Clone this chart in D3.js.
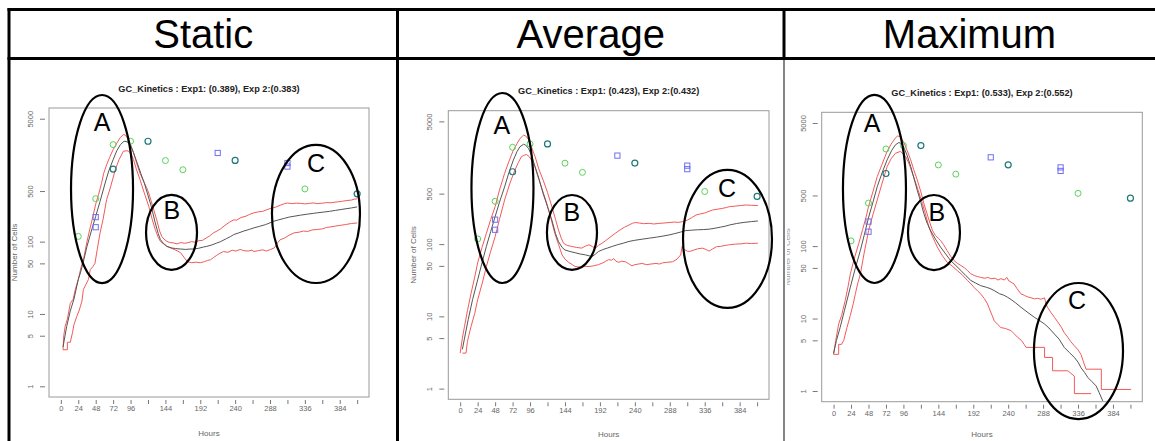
<!DOCTYPE html>
<html>
<head>
<meta charset="utf-8">
<script src="https://cdn.jsdelivr.net/npm/d3@7"></script>
<style>
  html, body { margin: 0; padding: 0; background: #fff; }
  svg { display: block; }
  text { font-family: "Liberation Sans", Arial, sans-serif; }
</style>
</head>
<body>
<svg id="fig" width="1155" height="441"></svg>
<script>
// ---- Column headings ----
const panelNames = ["Static", "Average", "Maximum"];
const panelTitles = [
  "GC_Kinetics : Exp1: (0.389), Exp 2:(0.383)",
  "GC_Kinetics : Exp1: (0.423), Exp 2:(0.432)",
  "GC_Kinetics : Exp1: (0.533), Exp 2:(0.552)"
];

// ---- Axis ticks ----
const xTickValues = [0, 24, 48, 72, 96, 120, 144, 168, 192, 216, 240, 264, 288, 312, 336, 360, 384, 408];
const xTickLabels = [0, 24, 48, 72, 96, 144, 192, 240, 288, 336, 384];
const yTickValues = [1, 5, 10, 50, 100, 500, 5000];
const xLimits = [0, 408];
const yLimits = [1, 5000];

// ---- Measured cell counts (hours, cells) ----
const exp1Points = [[24, 118], [48, 392], [72, 2190], [96, 2440], [144, 1320], [168, 985], [336, 535]];
const exp2Points = [[48, 218], [48, 158], [216, 1680], [312, 1220], [312, 1090]];
const bothPoints = [[72, 1005], [120, 2440], [240, 1325], [408, 458]];

// ---- Simulated envelopes: Static ----
const staticUpper = [[3,3.2],[4,5],[6,6.8],[9,8.5],[13,14],[17,16],[20,22],[24,30],[28,45],[31,56],[36,100],[40,150],[44,220],[48,330],[52,450],[56,640],[59,880],[63,1150],[67,1450],[72,1870],[77,2300],[82,2750],[86,3020],[89,2950],[93,2600],[97,2050],[100,1700],[104,1250],[109,880],[114,680],[118,560],[121,470],[126,320],[132,200],[136,140],[139,118],[142,108],[146,101],[150,97],[155,96],[160,93],[165,97],[170,95],[174,96],[180,100],[185,98],[190,103],[195,104],[200,112],[205,120],[210,132],[215,140],[220,150],[226,168],[232,185],[238,200],[242,198],[248,215],[255,225],[260,238],[266,250],[272,258],[278,262],[284,277],[290,290],[296,300],[302,318],[308,335],[312,342],[318,335],[324,340],[330,338],[336,332],[342,338],[348,342],[353,335],[360,340],[366,346],[372,344],[376,350],[382,355],[388,362],[394,370],[400,375],[404,386],[408,389]];
const staticMean = [[3,3.5],[8,6.7],[13,11],[18,16],[24,30],[27,37],[32,58],[36,86],[42,140],[48,224],[54,360],[61,645],[66,950],[72,1360],[77,1800],[82,2190],[87,2440],[91,2400],[96,2150],[100,1700],[105,1230],[110,880],[115,640],[119,470],[124,320],[130,181],[134,130],[137,107],[141,95],[146,86],[152,82],[158,80],[165,79],[172,78],[178,79],[183,79],[190,81],[196,84],[201,86],[208,90],[214,95],[220,100],[228,110],[234,118],[238,125],[245,132],[252,140],[260,148],[266,155],[274,163],[282,172],[288,182],[293,191],[300,200],[308,210],[314,218],[321,224],[330,232],[340,240],[348,246],[353,250],[362,256],[370,262],[378,270],[386,278],[394,286],[400,292],[408,302]];
const staticLower = [[3,3.2],[9,3.2],[9,4.06],[13,4.06],[16,5.5],[18,7.1],[22,9.3],[25,11],[29,15],[31,21.7],[34,25],[38,30],[40.5,41],[44,45],[47,50],[50,77],[54,132],[58,200],[63,380],[68,550],[75,990],[80,1350],[86,1770],[90,1800],[93,1790],[97,1600],[100,1360],[104,1000],[109,720],[114,500],[121,308],[126,200],[130,147],[134,115],[137,101],[142,92],[147,85],[151,82],[156,78],[161,74],[165,70],[170,60],[174,53],[180,51],[186,52],[192,51],[198,53],[202,55],[206,56],[210,60],[214,64],[218,68],[224,73],[230,71],[236,76],[241,74],[247,78],[252,75],[258,74],[263,76],[266,73],[272,75],[278,77],[283,74],[289,78],[294,82],[298,95],[302,106],[308,112],[314,122],[321,132],[328,135],[334,140],[340,138],[346,145],[353,147],[360,150],[366,157],[372,160],[378,164],[385,168],[392,172],[400,178],[408,181]];

// ---- Simulated envelopes: Average ----
const averageUpper = [[0,3.1],[3,5],[6,7.3],[10,12],[15,21],[20,35],[24,55],[30,90],[36,141],[42,220],[48,330],[54,560],[61,950],[67,1400],[73,1990],[78,2450],[82,2880],[87,3220],[90,3150],[94,2800],[98,2200],[103,1620],[108,1100],[114,770],[120,520],[126,330],[131,220],[135,158],[139,120],[142,103],[147,96],[153,93],[160,90],[167,88],[172,94],[177,98],[182,92],[186,88],[190,96],[195,103],[200,112],[206,125],[213,141],[220,158],[226,172],[232,184],[237,195],[241,199],[246,196],[252,192],[260,194],[266,190],[272,193],[280,196],[287,199],[294,202],[300,200],[306,205],[312,215],[318,232],[324,253],[330,262],[336,270],[342,285],[347,297],[354,305],[360,312],[366,322],[370,330],[378,336],[385,342],[393,348],[400,345],[409,342]];
const averageMean = [[3,3.5],[6,5],[11,9],[17,17],[24,32],[30,55],[36,93],[42,150],[48,240],[54,380],[61,620],[67,980],[73,1450],[78,1900],[82,2220],[87,2410],[90,2350],[94,2100],[98,1700],[103,1175],[108,820],[114,500],[120,330],[126,215],[131,140],[135,109],[140,90],[144,83],[151,79],[158,76],[165,73],[172,71],[177,69],[181,67],[186,73],[190,79],[196,84],[202,88],[209,93],[216,98],[224,103],[232,109],[240,113],[250,117],[260,121],[270,125],[280,130],[287,134],[295,140],[303,147],[310,154],[318,156],[326,158],[334,159],[342,161],[350,166],[358,172],[365,178],[370,184],[380,193],[390,200],[400,205],[409,209]];
const averageLower = [[3,3.1],[8,3.1],[10,4.5],[12,5.5],[15,7.3],[20,11],[24,17],[30,28],[36,49],[42,80],[48,127],[54,220],[61,407],[68,680],[75,1050],[80,1350],[84,1620],[88,1700],[91,1740],[95,1620],[98,1450],[103,1150],[107,850],[113,560],[119,365],[125,220],[130,141],[135,100],[140,71],[144,62],[149,56],[154,52],[158,49],[165,48],[172,49],[177,49],[183,50],[190,52],[196,55],[200,58],[204,61],[208,60],[211,63],[214,58],[218,56],[222,58],[227,57],[231,54],[236,50],[240,52],[245,53],[250,54],[256,52],[262,53],[269,54],[274,53],[278,55],[284,56],[292,57],[298,62],[303,71],[305,93],[308,84],[312,80],[315,79],[320,82],[326,86],[333,88],[338,84],[342,80],[347,86],[352,92],[358,93],[364,96],[370,98],[378,100],[386,101],[393,103],[400,102],[409,103]];

// ---- Simulated envelopes: Maximum ----
const maximumUpper = [[0,3.2],[3,5],[7,8.4],[11,11],[16,17.7],[20,28],[23,41],[28,65],[34.5,108],[40,170],[45,260],[48,350],[54,560],[60,910],[66,1300],[73.6,2030],[79,2550],[85,3100],[88,3330],[92,3200],[96.6,2700],[101,2100],[106,1550],[110,1150],[115,820],[120,560],[124,390],[130,250],[135.7,166],[140,140],[144,128],[147,120],[151,105],[156,87],[161,72],[165.6,63],[170,58],[175,54],[180,50],[184,46],[188.6,41.5],[194,39],[198,38],[202,37],[208,36],[212,37],[216,35.5],[222,36],[226,34],[230,35.5],[235,34],[238,37],[241,33],[244,31.8],[248,30],[252,26],[257.6,21.9],[262,21],[266,20],[270,19.5],[276,18.7],[280,19],[285,18.5],[290,19.3],[292,16],[294,14.3],[299,12],[303.6,10.4],[308,9],[313,7.6],[317,6.4],[322,5.5],[326,4.8],[331,4.2],[336,3.7],[340,3.2],[343,2.6],[347,2.0],[368,2.0],[368,1.05],[409,1.05]];
const maximumMean = [[0,3.3],[4,5],[9,7.5],[15,13],[23,27],[30,50],[36.8,87],[42,140],[48.3,252],[54,400],[60,660],[67,1050],[73.6,1550],[80,2100],[85,2500],[89.7,2690],[93,2600],[96.6,2300],[101,1800],[106,1260],[110,900],[115,590],[120,400],[124,283],[128,215],[133,166],[140,125],[147,97],[154,78],[161,63],[168,54],[175,46],[182,39],[188.6,33.6],[195,31],[202,28.5],[210,27],[215,26],[220.8,24.3],[228,22],[234,21],[239,19.7],[245,18],[250,16.5],[257.6,14.3],[263,13],[270,11.5],[276,10.4],[283,9.4],[290,8.4],[296,7.4],[303.6,6.1],[310,5.2],[317,4.0],[324,3.4],[331,2.9],[336,2.5],[340,2.1],[345,1.8],[349.6,1.53],[355,1.35],[361,1.17],[365,0.95],[370,0.73]];
const maximumLower = [[0,3.2],[7,3.2],[7,4.4],[11,4.4],[14,5],[18.4,7.5],[23,11],[27,16],[30,22],[33,30],[36.8,41],[42,80],[48.3,166],[54,270],[60,433],[66,700],[73.6,1250],[79,1600],[85,1910],[92,2030],[99,1730],[104,1350],[110,910],[116,600],[122,390],[127,260],[131,184],[136,135],[142.6,97],[149,75],[156,60],[163,53],[170,46],[177,40],[184,33.6],[189,30],[193,27],[198,24],[202,22],[207,19],[211.6,15.9],[215,13],[218,11],[220.8,9.3],[225,8.4],[230,7.5],[236,7.3],[244,6.8],[248,6.2],[253,5.5],[258,5.0],[262,4.4],[264.5,4.0],[290,4.0],[290,2.9],[301,2.9],[301,1.9],[322,1.9],[331,1.6],[331,0.92],[354,0.92]];

// ---- Hand-drawn region annotations: [label, centre hour, centre cells, half-width (hours), half-height (decades), label hour, label cells] ----
const staticRegions  = [["A", 56.7, 533, 42.7, 1.30, 56.7, 4510], ["B", 152.4, 134, 35.1, 0.518, 153, 275], ["C", 351.3, 241, 60.6, 0.954, 351.3, 1225]];
const averageRegions = [["A", 58.1, 598, 42.6, 1.315, 57.4, 4440], ["B", 153.6, 145, 34.4, 0.519, 153.6, 279], ["C", 367.3, 118, 61.1, 0.955, 366.6, 598]];
const maximumRegions = [["A", 56.2, 615, 43.3, 1.298, 52.8, 5010], ["B", 138, 154, 35.7, 0.518, 142, 296], ["C", 336.6, 3.56, 61.2, 0.939, 334.6, 18.0]];

const panelData = [
  { upper: staticUpper,  mean: staticMean,  lower: staticLower,  regions: staticRegions },
  { upper: averageUpper, mean: averageMean, lower: averageLower, regions: averageRegions },
  { upper: maximumUpper, mean: maximumMean, lower: maximumLower, regions: maximumRegions }
];

// Plot-box placement for each column
const plotBoxes = [
  { left: 49,    top: 108,   right: 369,    bottom: 397 },
  { left: 448.3, top: 110.7, right: 769,    bottom: 399.3 },
  { left: 821.7, top: 112.3, right: 1142.3, bottom: 401.7 }
];
const columnEdges = [9, 397.5, 784, 1155];

const svg = d3.select("#fig");

// ---- Table frame and headings ----
const frame = svg.append("g");
frame.append("line").attr("x1", 7.5).attr("x2", 1155).attr("y1", 9.5).attr("y2", 9.5)
  .attr("stroke", "#000").attr("stroke-width", 3);
frame.append("line").attr("x1", 7.5).attr("x2", 1155).attr("y1", 58.5).attr("y2", 58.5)
  .attr("stroke", "#000").attr("stroke-width", 3);
frame.append("line").attr("x1", columnEdges[0]).attr("x2", columnEdges[0]).attr("y1", 8).attr("y2", 441)
  .attr("stroke", "#000").attr("stroke-width", 3);
frame.append("line").attr("x1", columnEdges[1]).attr("x2", columnEdges[1]).attr("y1", 8).attr("y2", 441)
  .attr("stroke", "#000").attr("stroke-width", 3);
frame.append("line").attr("x1", columnEdges[2]).attr("x2", columnEdges[2]).attr("y1", 8).attr("y2", 60)
  .attr("stroke", "#000").attr("stroke-width", 3);
frame.append("line").attr("x1", columnEdges[2]).attr("x2", columnEdges[2]).attr("y1", 60).attr("y2", 441)
  .attr("stroke", "#333").attr("stroke-width", 1.2);

panelNames.forEach((name, i) => {
  frame.append("text")
    .attr("x", (columnEdges[i] + columnEdges[i + 1]) / 2)
    .attr("y", 48)
    .attr("text-anchor", "middle")
    .attr("font-size", 40)
    .attr("fill", "#000")
    .text(name);
});

// ---- One log-scale kinetics plot per column ----
const pad = 0.04;
panelData.forEach((pd, i) => {
  const box = plotBoxes[i];
  const xSpan = xLimits[1] - xLimits[0];
  const x = d3.scaleLinear()
    .domain([xLimits[0] - pad * xSpan, xLimits[1] + pad * xSpan])
    .range([box.left, box.right]);
  const ly = [Math.log10(yLimits[0]), Math.log10(yLimits[1])];
  const lySpan = ly[1] - ly[0];
  const y = d3.scaleLog()
    .domain([Math.pow(10, ly[0] - pad * lySpan), Math.pow(10, ly[1] + pad * lySpan)])
    .range([box.bottom, box.top]);

  const g = svg.append("g");
  const clipId = "plotclip" + i;
  g.append("clipPath").attr("id", clipId).append("rect")
    .attr("x", box.left).attr("y", box.top)
    .attr("width", box.right - box.left).attr("height", box.bottom - box.top);

  // title
  g.append("text")
    .attr("x", (box.left + box.right) / 2)
    .attr("y", box.top - 16.5)
    .attr("text-anchor", "middle")
    .attr("font-size", 9.2)
    .attr("font-weight", "bold")
    .attr("fill", "#222")
    .text(panelTitles[i]);

  // x axis ticks (no axis line)
  const xAxis = d3.axisBottom(x).tickValues(xTickValues).tickSize(4).tickSizeOuter(0)
    .tickFormat(d => xTickLabels.includes(d) ? d : "");
  const xg = g.append("g").attr("transform", `translate(0,${box.bottom + 3})`).call(xAxis);
  xg.select(".domain").remove();
  xg.selectAll(".tick line").attr("stroke", "#777");
  xg.selectAll(".tick text").attr("fill", "#666").attr("font-size", 7.5)
    .attr("font-family", "'Liberation Sans', Arial, sans-serif").attr("dy", "0.95em").attr("y", 4);

  // y axis ticks with rotated labels
  const yAxis = d3.axisLeft(y).tickValues(yTickValues).tickSize(5).tickSizeOuter(0)
    .tickFormat(d => String(d));
  const yg = g.append("g").attr("transform", `translate(${box.left - 4},0)`).call(yAxis);
  yg.select(".domain").remove();
  yg.selectAll(".tick line").attr("stroke", "#777");
  yg.selectAll(".tick text")
    .attr("fill", "#666").attr("font-size", 7.5)
    .attr("font-family", "'Liberation Sans', Arial, sans-serif")
    .attr("x", null).attr("dy", null)
    .attr("text-anchor", "middle")
    .attr("transform", "translate(-12,0) rotate(-90)");

  // axis titles
  g.append("text")
    .attr("x", (box.left + box.right) / 2)
    .attr("y", Math.min(box.bottom + 38.5, 436.5))
    .attr("text-anchor", "middle")
    .attr("font-size", 8)
    .attr("fill", "#666")
    .text("Hours");
  const yLab = g.append("g");
  if (i === 2) {
    yLab.append("clipPath").attr("id", "ylabclip").append("rect")
      .attr("x", columnEdges[2] + 3).attr("y", box.top).attr("width", 30).attr("height", box.bottom - box.top);
    yLab.attr("clip-path", "url(#ylabclip)");
  }
  yLab.append("text")
    .attr("transform", `translate(${box.left - 32},${(box.top + box.bottom) / 2}) rotate(-90)`)
    .attr("text-anchor", "middle")
    .attr("font-size", 8)
    .attr("fill", i === 2 ? "#999" : "#666")
    .text("Number of Cells");

  // plot frame
  g.append("rect")
    .attr("x", box.left).attr("y", box.top)
    .attr("width", box.right - box.left).attr("height", box.bottom - box.top)
    .attr("fill", "none").attr("stroke", "#999").attr("stroke-width", 1);

  // envelopes
  const line = d3.line().x(d => x(d[0])).y(d => y(d[1]));
  const lines = g.append("g").attr("clip-path", `url(#${clipId})`);
  lines.append("path").datum(pd.upper).attr("d", line)
    .attr("fill", "none").attr("stroke", "#f25a5a").attr("stroke-width", 1);
  lines.append("path").datum(pd.lower).attr("d", line)
    .attr("fill", "none").attr("stroke", "#f25a5a").attr("stroke-width", 1);
  lines.append("path").datum(pd.mean).attr("d", line)
    .attr("fill", "none").attr("stroke", "#555").attr("stroke-width", 1);

  // measured points
  const pts = g.append("g");
  pts.selectAll("circle.exp1").data(exp1Points).join("circle")
    .attr("class", "exp1")
    .attr("cx", d => x(d[0])).attr("cy", d => y(d[1])).attr("r", 3)
    .attr("fill", "none").attr("stroke", "#5ad25a").attr("stroke-width", 1);
  pts.selectAll("rect.exp2").data(exp2Points).join("rect")
    .attr("class", "exp2")
    .attr("x", d => x(d[0]) - 2.6).attr("y", d => y(d[1]) - 2.6)
    .attr("width", 5.2).attr("height", 5.2)
    .attr("fill", "none").attr("stroke", "#6f6ff2").attr("stroke-width", 1);
  pts.selectAll("circle.both").data(bothPoints).join("circle")
    .attr("class", "both")
    .attr("cx", d => x(d[0])).attr("cy", d => y(d[1])).attr("r", 3)
    .attr("fill", "none").attr("stroke", "#1f7878").attr("stroke-width", 1.2);

  // region annotations
  const ann = g.append("g");
  pd.regions.forEach(r => {
    const cx = x(r[1]);
    const cy = y(r[2]);
    const rx = x(r[1] + r[3]) - cx;
    const ry = cy - y(r[2] * Math.pow(10, r[4]));
    ann.append("ellipse")
      .attr("cx", cx).attr("cy", cy).attr("rx", rx).attr("ry", ry)
      .attr("fill", "none").attr("stroke", "#000").attr("stroke-width", 2.2);
    ann.append("text")
      .attr("x", x(r[5])).attr("y", y(r[6]))
      .attr("text-anchor", "middle").attr("dominant-baseline", "central")
      .attr("font-size", 25).attr("fill", "#000")
      .text(r[0]);
  });
});
</script>
</body>
</html>
